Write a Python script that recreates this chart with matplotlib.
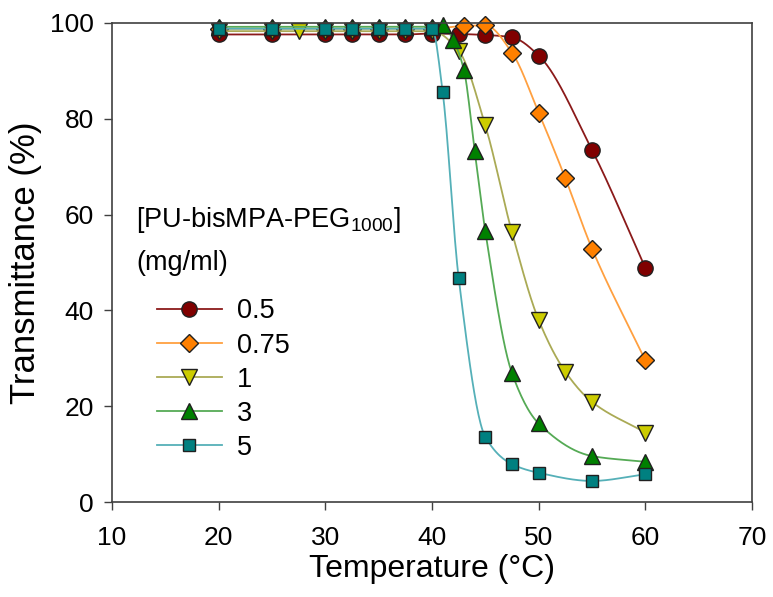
import numpy as np
import matplotlib
matplotlib.use('Agg')
import matplotlib.pyplot as plt
from matplotlib.lines import Line2D

plt.rcParams['font.family'] = ['Liberation Sans', 'DejaVu Sans']
plt.rcParams['mathtext.fontset'] = 'custom'
plt.rcParams['mathtext.rm'] = 'Liberation Sans'

# concentration series (mg/ml): temperature (C) and transmittance (%)
T_05 = [20, 25, 30, 32.5, 35, 37.5, 40, 42.5, 45, 47.5, 50, 55, 60]
y_05 = [97.6, 97.6, 97.6, 97.6, 97.6, 97.6, 97.8, 97.7, 97.5, 97.0, 93.2, 73.5, 48.9]

T_075 = [20, 25, 30, 32.5, 35, 37.5, 40, 43, 45, 47.5, 50, 52.5, 55, 60]
y_075 = [98.8, 98.8, 98.8, 98.8, 98.8, 98.8, 98.8, 99.4, 99.5, 93.8, 81.3, 67.6, 52.9, 29.6]

T_1 = [20, 25, 27.5, 30, 32.5, 35, 37.5, 40, 42.5, 45, 47.5, 50, 52.5, 55, 60]
y_1 = [98.3, 98.3, 98.3, 98.3, 98.3, 98.3, 98.3, 98.3, 94.2, 78.6, 56.3, 38.0, 27.2, 20.9, 14.5]

T_3 = [20, 25, 30, 32.5, 35, 37.5, 40, 41, 42, 43, 44, 45, 47.5, 50, 55, 60]
y_3 = [99.2, 99.2, 99.2, 99.2, 99.2, 99.2, 99.2, 99.5, 96.4, 90.1, 73.3, 56.5, 26.9, 16.4, 9.6, 8.4]

T_5 = [20, 25, 30, 32.5, 35, 37.5, 40, 41, 42.5, 45, 47.5, 50, 55, 60]
y_5 = [98.8, 98.8, 98.8, 98.8, 98.8, 98.8, 98.8, 85.6, 46.8, 13.6, 7.9, 6.1, 4.4, 5.8]

labels = ['0.5', '0.75', '1', '3', '5']


def pchip(x, y, xs):
    # monotone cubic curve through the points (for drawing the smooth line)
    x = np.asarray(x, float)
    y = np.asarray(y, float)
    h = np.diff(x)
    d = np.diff(y) / h
    n = len(x)
    m = np.zeros(n)
    for k in range(1, n - 1):
        if d[k - 1] * d[k] > 0:
            w1 = 2 * h[k] + h[k - 1]
            w2 = h[k] + 2 * h[k - 1]
            m[k] = (w1 + w2) / (w1 / d[k - 1] + w2 / d[k])
    m[0] = d[0]
    m[-1] = d[-1]
    idx = np.clip(np.searchsorted(x, xs) - 1, 0, n - 2)
    t = (xs - x[idx]) / h[idx]
    h00 = 2 * t**3 - 3 * t**2 + 1
    h10 = t**3 - 2 * t**2 + t
    h01 = -2 * t**3 + 3 * t**2
    h11 = t**3 - t**2
    return h00 * y[idx] + h10 * h[idx] * m[idx] + h01 * y[idx + 1] + h11 * h[idx] * m[idx + 1]


series = [
    (T_05, y_05, 'o', '#800000', '#8B1A1A', 11),
    (T_075, y_075, 'D', '#FF8000', '#FFA040', 9.5),
    (T_1, y_1, 'v', '#CCCC00', '#AAAA55', 11),
    (T_3, y_3, '^', '#008000', '#55AA55', 11),
    (T_5, y_5, 's', '#008080', '#55B0B8', 9),
]

fig = plt.figure(figsize=(7.73, 5.97), dpi=100)
ax = fig.add_axes([0.1449, 0.1591, 0.8279, 0.8024])

handles = []
for (T, y, mk, fill, lc, ms), lab in zip(series, labels):
    xs = np.linspace(T[0], T[-1], 400)
    ax.plot(xs, pchip(T, y, xs), color=lc, lw=1.3, clip_on=False)
    ax.plot(T, y, ls='none', marker=mk, ms=ms, mfc=fill, mec='#202020',
            mew=1.0, clip_on=False)
    handles.append(Line2D([], [], color=lc, lw=1.3, marker=mk, ms=ms,
                          mfc=fill, mec='#202020', mew=1.0))

ax.set_xlim(10, 70)
ax.set_ylim(0, 100)
ax.set_xticks(np.arange(10, 71, 10))
ax.set_yticks(np.arange(0, 101, 20))
ax.tick_params(direction='out', length=6, width=1, labelsize=19,
               color='#404040')
ax.tick_params(axis='x', pad=11)
ax.tick_params(axis='y', pad=7)
for sp in ax.spines.values():
    sp.set_color('#404040')
    sp.set_linewidth(1.2)

ax.set_xlabel('Temperature (°C)', fontsize=23, labelpad=3)
ax.set_ylabel('Transmittance (%)', fontsize=25, labelpad=6)

ax.text(12.25, 58.9, '[PU-bisMPA-PEG$_{1000}$]', fontsize=19.5, va='center', ha='left')
ax.text(12.25, 49.9, '(mg/ml)', fontsize=19.5, va='center', ha='left')

ax.legend(handles, labels, loc='upper left', bbox_to_anchor=(0.070, 0.425),
          frameon=False, fontsize=19.5, handlelength=2.4, handletextpad=0.55,
          labelspacing=0.3, borderpad=0, borderaxespad=0)

fig.savefig('out.png', dpi=100)
